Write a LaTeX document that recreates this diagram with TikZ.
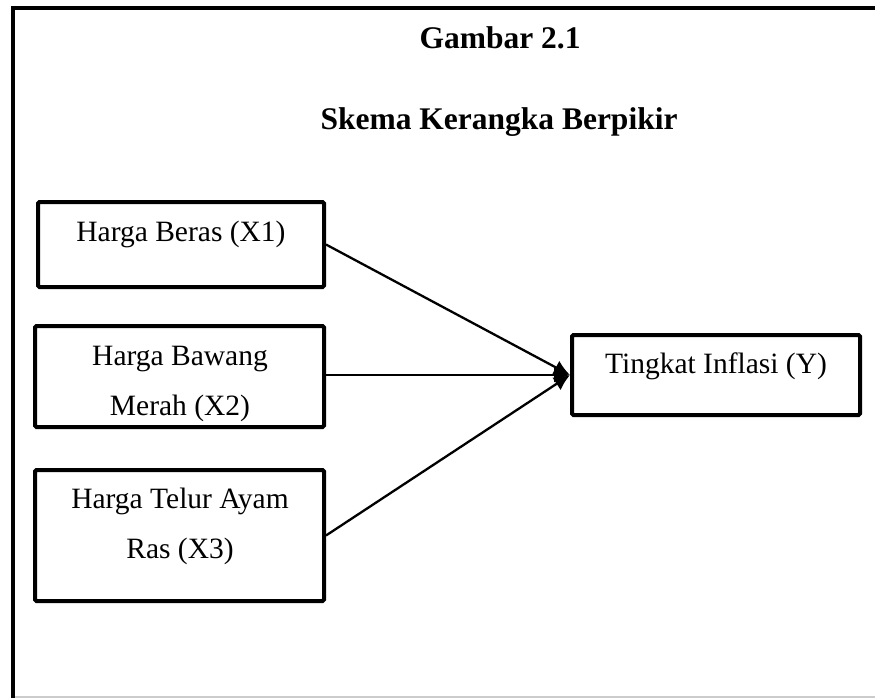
\documentclass[tikz,border=0pt]{standalone}
\usepackage{fontspec}
\setmainfont{Liberation Serif}
\usetikzlibrary{arrows.meta, positioning, calc}

\begin{document}
\begin{tikzpicture}[x=1pt, y=-1pt,
  kotak/.style={draw, line width=4pt, rounded corners=1.5pt, inner sep=0pt},
  teks/.style={font=\fontsize{29.5}{50}\selectfont, align=center, anchor=base, inner sep=0pt},
  judul/.style={font=\fontsize{31.5}{38}\selectfont\bfseries, anchor=base, inner sep=0pt},
  panah/.style={-{Latex[length=16pt, width=15pt]}, line width=2.3pt}]
\useasboundingbox (0,0) rectangle (875,698);

% --- BINGKAI LUAR ---
\draw[line width=4pt] (13,698) -- (13,8) -- (875,8);
\draw[line width=1.5pt, color=gray!40] (15,697) -- (875,697);

% --- JUDUL ---
\node[judul] (gambar) at (500,49) {Gambar 2.1};
\node[judul] (skema) at (499,130) {Skema Kerangka Berpikir};

% --- VARIABEL X ---
\node[kotak, minimum width=286pt, minimum height=85pt] (x1) at (181,244.5) {};
\node[kotak, minimum width=289pt, minimum height=101pt] (x2) at (179.5,376.5) {};
\node[kotak, minimum width=289pt, minimum height=131pt] (x3) at (179.5,535.5) {};
\node[teks] (tx1) at (181,241) {Harga Beras (X1)};
\node[teks] (tx2) at (180,415) {Harga Bawang\\Merah (X2)};
\node[teks] (tx3) at (180,558) {Harga Telur Ayam\\Ras (X3)};

% --- VARIABEL Y ---
\node[kotak, minimum width=288pt, minimum height=80pt] (y) at (716,375) {};
\node[teks] (ty) at (716,373) {Tingkat Inflasi (Y)};

% --- PANAH ---
\draw[panah] (x1.east) -- (y.west);
\draw[panah] (x2.east |- y.west) -- (y.west);
\draw[panah] (x3.east) -- (y.west);
\end{tikzpicture}
\end{document}
